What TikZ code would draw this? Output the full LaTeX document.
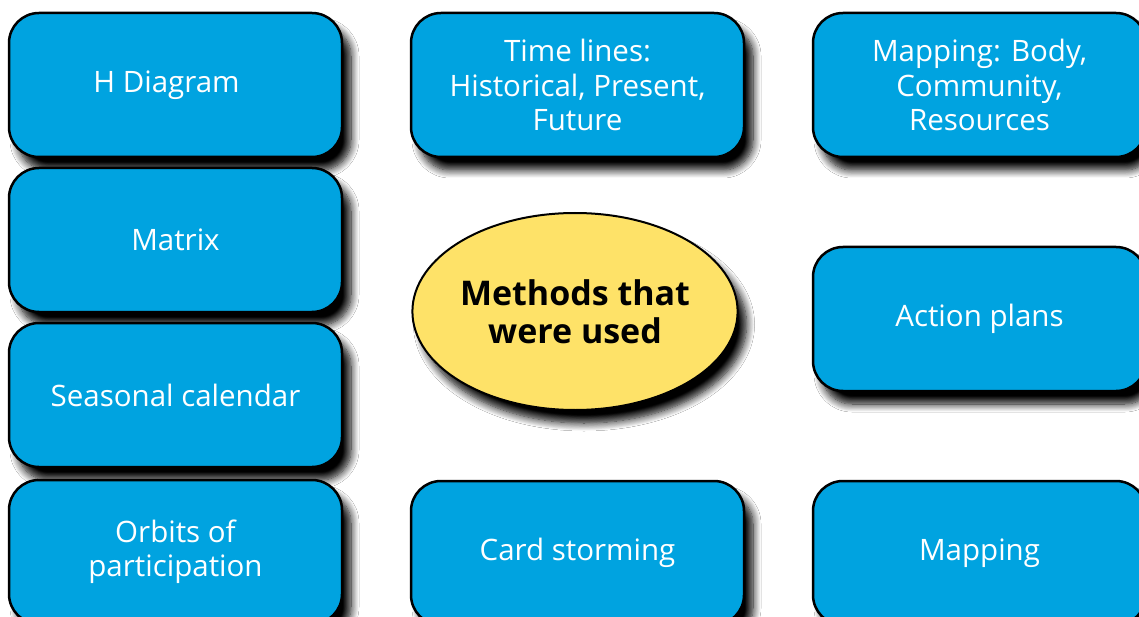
\documentclass[tikz,border=0pt]{standalone}
\usepackage{fontspec}
\setmainfont{Open Sans}
\usetikzlibrary{shapes.geometric,shadows.blur}
\definecolor{boxblue}{RGB}{0,163,224}
\definecolor{ovalyellow}{RGB}{254,226,104}
\begin{document}
\begin{tikzpicture}[x=1pt,y=-1pt,
  softshadow/.style={blur shadow={shadow xshift=9pt, shadow yshift=-13pt, shadow blur radius=8pt, shadow opacity=100, shadow blur steps=10}},
  method/.style={draw=black, line width=2.5pt, fill=boxblue, rounded corners=30pt,
    minimum width=333pt, minimum height=144pt, inner sep=0pt, text=white, align=center,
    font=\fontsize{29.5}{34.5}\selectfont, softshadow},
  centre/.style={ellipse, draw=black, line width=2pt, fill=ovalyellow,
    minimum width=323pt, minimum height=197pt, inner sep=0pt, align=center,
    font=\bfseries\fontsize{34}{38}\selectfont, softshadow}]
\useasboundingbox (0,0) rectangle (1139,617);
\fill[white] (0,0) rectangle (1139,617);
\node[method] (hdiag) at (175.5,85) {H Diagram\hspace*{18pt}};
\node[method] (matrix) at (175.5,240) {Matrix};
\node[method] (season) at (175.5,395) {Seasonal calendar};
\node[method] (orbits) at (175.5,552) {Orbits of\\participation};
\node[method] (timelines) at (577.5,85) {Time lines:\\Historical, Present,\\Future};
\node[method] (mapbody) at (979.5,85) {Mapping: Body,\\Community,\\Resources};
\node[method] (action) at (979.5,319) {Action plans};
\node[method] (cards) at (577.5,553) {Card storming};
\node[method] (mapping) at (979.5,553) {Mapping};
\node[centre] (methods) at (575,311.5) {Methods that\\were used};
\end{tikzpicture}
\end{document}
